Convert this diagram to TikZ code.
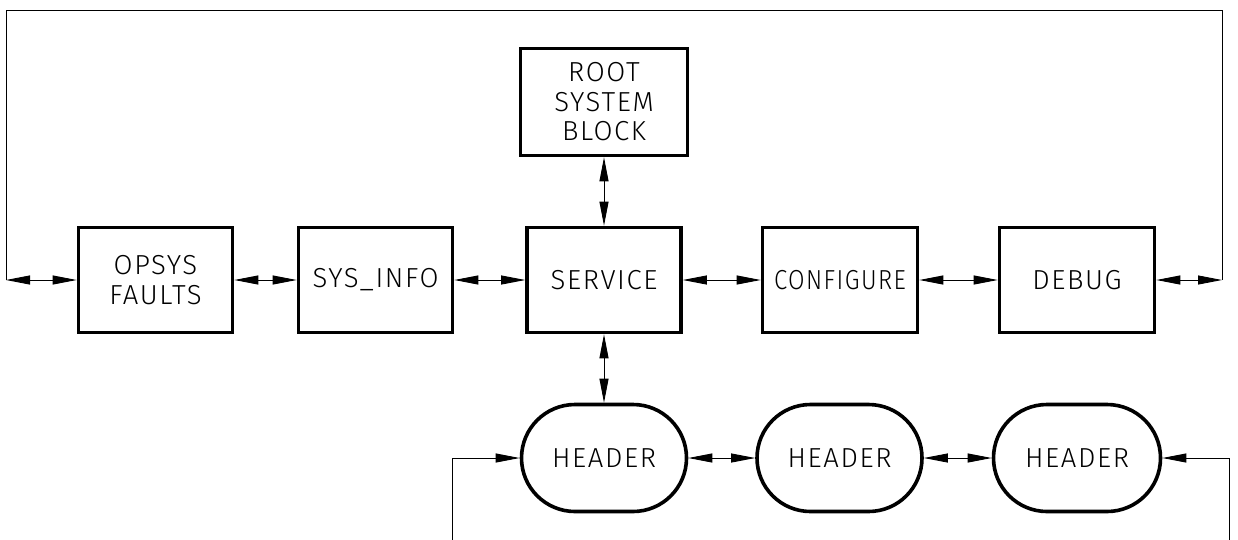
\documentclass[tikz,border=0pt]{standalone}
\usepackage{fontspec}
\setmainfont{Fira Sans Light}[LetterSpace=6]
\usetikzlibrary{arrows.meta,shapes.misc}
\tikzset{
  lbl/.style={font=\fontsize{27.5}{29.5}\selectfont},
  blk/.style={lbl, draw, line width=3.6pt, inner sep=0pt, align=center,
              minimum width=154pt, minimum height=105pt},
  hdr/.style={lbl, draw, rounded rectangle, line width=3.6pt, inner sep=0pt,
              minimum width=165pt, minimum height=107pt},
  tip/.tip={Triangle[length=24pt,width=9pt]},
  conn/.style={line width=0.9pt, tip-tip},
  onearrow/.style={line width=0.9pt, -tip},
  loop/.style={line width=0.9pt}
}
\begin{document}
\begin{tikzpicture}[x=1pt,y=-1pt]
\useasboundingbox (0,0) rectangle (1238,539);
% blocks
\node[blk] (opsys) at (155.5,280) {OPSYS\\FAULTS};
\node[blk] (sysinfo) at (375.5,280) {SYS\_INFO};
\node[blk] (service) at (604,280) {SERVICE};
\node[blk, minimum width=155pt] (configure) at (840,280) {\scalebox{0.87}[1]{CONFIGURE}};
\node[blk, minimum width=155pt] (debug) at (1077,280) {DEBUG};
\node[blk, minimum width=167pt, minimum height=107pt] (root) at (604,102) {ROOT\\SYSTEM\\BLOCK};
% headers
\node[hdr] (h1) at (604,458) {HEADER};
\node[hdr] (h2) at (839.5,458) {HEADER};
\node[hdr, minimum width=167pt] (h3) at (1077,458) {HEADER};
% free ends
\coordinate (cL) at (6,280);
\coordinate (tL) at (6,10);
\coordinate (tR) at (1222,10);
\coordinate (cR) at (1222,280);
\coordinate (bL) at (452,545);
\coordinate (bR) at (1229,545);
% connectors
\draw[loop] (cL) -- (tL) -- (tR) -- (cR);
\draw[conn] (cL) -- (opsys.west);
\draw[conn] (opsys.east) -- (sysinfo.west);
\draw[conn] (sysinfo.east) -- (service.west);
\draw[conn] (service.east) -- (configure.west);
\draw[conn] (configure.east) -- (debug.west);
\draw[conn] (debug.east) -- (cR);
\draw[conn] (root.south) -- (service.north);
\draw[conn] (service.south) -- (h1.north);
\draw[conn] (h1.east) -- (h2.west);
\draw[conn] (h2.east) -- (h3.west);
\draw[onearrow] (bL) |- (h1.west);
\draw[onearrow] (bR) |- (h3.east);
\end{tikzpicture}
\end{document}
